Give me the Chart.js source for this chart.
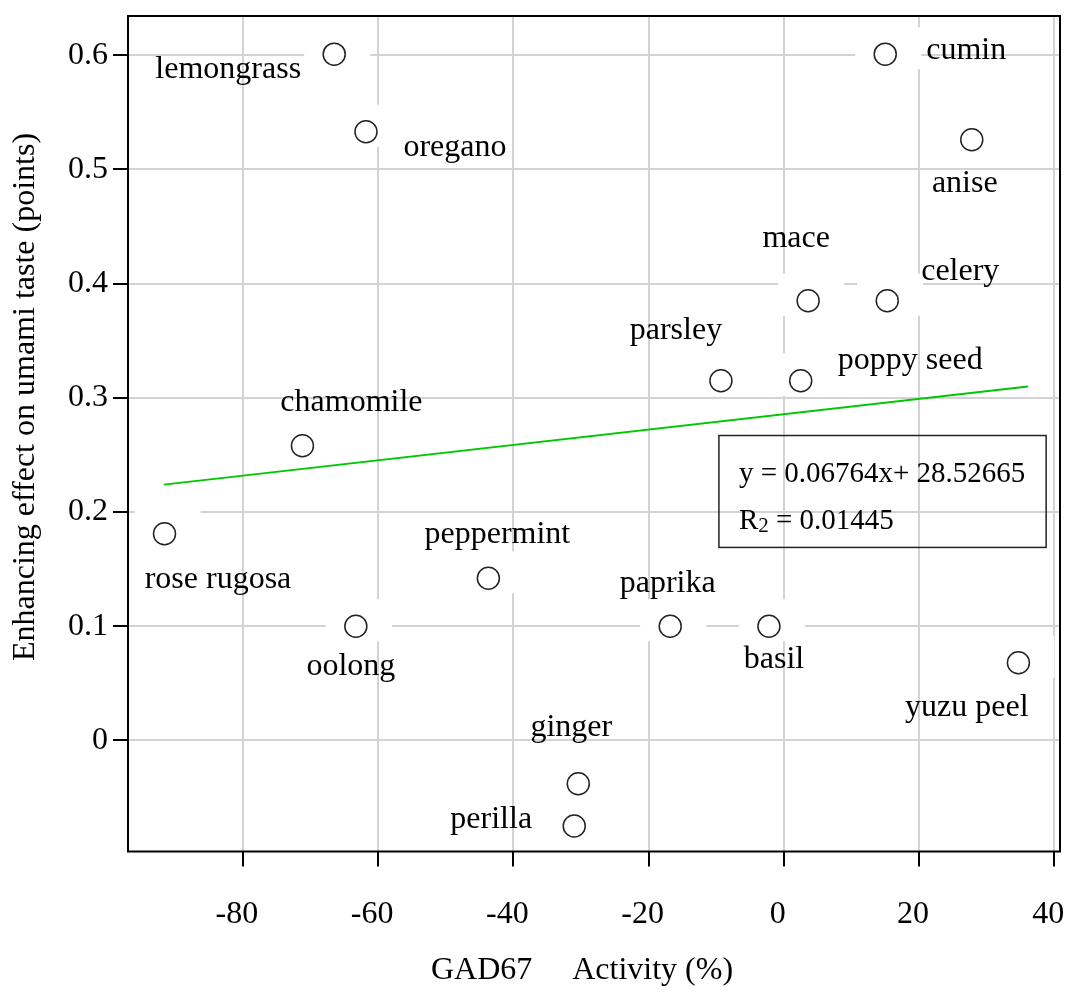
<!DOCTYPE html>
<html>
<head>
<meta charset="utf-8">
<script src="https://cdn.jsdelivr.net/npm/chart.js@4.4.0/dist/chart.umd.min.js"></script>
<style>
  html, body { margin: 0; padding: 0; background: #fff; }
</style>
</head>
<body>
<canvas id="c" width="1067" height="993"></canvas>
<script>
// data
const spices = ['lemongrass', 'oregano', 'cumin', 'anise', 'mace', 'celery', 'parsley', 'poppy seed',
  'chamomile', 'rose rugosa', 'peppermint', 'oolong', 'paprika', 'basil', 'yuzu peel', 'ginger', 'perilla']
const gadActivity = [-66.5, -61.8, 15.0, 27.8, 3.6, 15.3, -9.3, 2.5,
  -71.2, -91.6, -43.7, -63.3, -16.8, -2.2, 34.7, -30.4, -31.0]
const umamiEffect = [0.601, 0.533, 0.601, 0.526, 0.385, 0.385, 0.315, 0.315,
  0.258, 0.181, 0.142, 0.100, 0.100, 0.100, 0.068, -0.038, -0.075]
const trendX = [-91.7, 36.1]
const trendY = [0.224, 0.310]
const xTicks = [-80, -60, -40, -20, 0, 20, 40]
const yTicks = [0, 0.1, 0.2, 0.3, 0.4, 0.5, 0.6]
const eqText = 'y = 0.06764x+ 28.52665'
const r2Text = ' = 0.01445'

// where each label sits from its point (px, text centre / baseline)
const labelOffsets = [[-106, 24], [89, 24], [81, 5], [-7, 52], [-12, -54], [73, -21], [-45, -42], [109.5, -12],
  [49, -35], [53.5, 54], [9, -35], [-5, 49], [-2.5, -34], [5, 42], [-51.6, 53], [-7, -48], [-83, 2]]

const FONT = "'Liberation Serif', 'Times New Roman', serif"

const points = gadActivity.map((x, i) => ({ x: x, y: umamiEffect[i] }))
const trend = trendX.map((x, i) => ({ x: x, y: trendY[i] }))

// white patch behind every marker (hides grid lines there)
const patches = {
  id: 'patches',
  beforeDatasetsDraw(chart) {
    const ctx = chart.ctx
    const meta = chart.getDatasetMeta(0)
    ctx.save()
    ctx.fillStyle = '#fff'
    meta.data.forEach(p => {
      ctx.fillRect(p.x - 30, p.y - 27, 66, 42)
    })
    ctx.restore()
  }
}

const extras = {
  id: 'extras',
  afterDraw(chart) {
    const ctx = chart.ctx
    const a = chart.chartArea
    const xs = chart.scales.x, ys = chart.scales.y
    ctx.save()
    // frame
    ctx.strokeStyle = '#000'
    ctx.lineWidth = 2
    ctx.strokeRect(a.left, a.top, a.right - a.left, a.bottom - a.top)

    // labels
    ctx.fillStyle = '#000'
    ctx.font = '32px ' + FONT
    ctx.textAlign = 'center'
    ctx.textBaseline = 'alphabetic'
    const meta = chart.getDatasetMeta(0)
    meta.data.forEach((p, i) => {
      ctx.fillText(spices[i], p.x + labelOffsets[i][0], p.y + labelOffsets[i][1])
    })

    // equation box
    const bx1 = xs.getPixelForValue(-9.6), bx2 = xs.getPixelForValue(38.8)
    const by1 = ys.getPixelForValue(0.267), by2 = ys.getPixelForValue(0.169)
    ctx.strokeStyle = '#222'
    ctx.lineWidth = 1.5
    ctx.strokeRect(bx1, by1, bx2 - bx1, by2 - by1)
    ctx.textAlign = 'left'
    ctx.font = '29px ' + FONT
    ctx.fillText(eqText, bx1 + 20, by1 + 46)
    ctx.fillText('R', bx1 + 20, by1 + 93)
    const rw = ctx.measureText('R').width
    ctx.font = '21px ' + FONT
    ctx.fillText('2', bx1 + 20 + rw, by1 + 96)
    const sw = ctx.measureText('2').width
    ctx.font = '29px ' + FONT
    ctx.fillText(r2Text, bx1 + 20 + rw + sw, by1 + 93)

    // axis titles
    ctx.font = '32px ' + FONT
    ctx.textAlign = 'center'
    ctx.fillText('GAD67     Activity (%)', 582, 979)
    ctx.translate(34, 397)
    ctx.rotate(-Math.PI / 2)
    ctx.fillText('Enhancing effect on umami taste (points)', 0, 0)
    ctx.restore()
  }
}

new Chart(document.getElementById('c'), {
  type: 'scatter',
  data: {
    datasets: [
      {
        data: points,
        pointRadius: 11,
        pointHoverRadius: 11,
        pointBorderWidth: 1.5,
        borderColor: '#222',
        backgroundColor: '#fff'
      },
      {
        type: 'line',
        data: trend,
        borderColor: '#00c800',
        borderWidth: 2,
        pointRadius: 0,
        fill: false
      }
    ]
  },
  options: {
    responsive: false,
    animation: false,
    events: [],
    layout: { autoPadding: false, padding: { top: 16, right: 7, left: 0, bottom: 0 } },
    plugins: { legend: { display: false }, tooltip: { enabled: false } },
    scales: {
      x: {
        type: 'linear',
        min: -97,
        max: 40.85,
        afterBuildTicks: s => { s.ticks = xTicks.map(v => ({ value: v })) },
        afterFit: s => { s.height = 141.5; s.paddingLeft = 0; s.paddingRight = 0 },
        border: { display: false },
        grid: { color: '#d3d3d3', lineWidth: 2, tickColor: '#000', tickWidth: 2, tickLength: 15 },
        ticks: { color: '#000', font: { family: FONT, size: 32 }, padding: 29, maxRotation: 0, labelOffset: -6 }
      },
      y: {
        type: 'linear',
        min: -0.0973,
        max: 0.6344,
        afterBuildTicks: s => { s.ticks = yTicks.map(v => ({ value: v })) },
        afterFit: s => { s.width = 128; s.paddingTop = 0; s.paddingBottom = 0 },
        border: { display: false },
        grid: { color: '#d3d3d3', lineWidth: 2, tickColor: '#000', tickWidth: 2, tickLength: 15 },
        ticks: {
          color: '#000', font: { family: FONT, size: 32 }, padding: 5,
          callback: v => v === 0 ? '0' : v.toFixed(1)
        }
      }
    }
  },
  plugins: [patches, extras]
})
</script>
</body>
</html>
